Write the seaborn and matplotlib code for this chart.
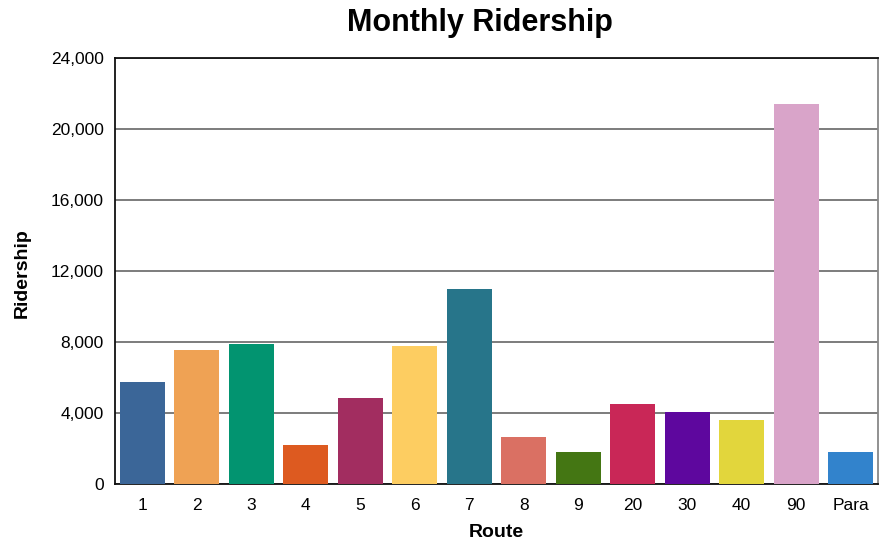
import matplotlib
matplotlib.use("Agg")
import matplotlib.pyplot as plt
import seaborn as sns
import pandas as pd
from matplotlib.ticker import FuncFormatter

routes = ["1", "2", "3", "4", "5", "6", "7", "8", "9", "20", "30", "40", "90", "Para"]
ridership = [5730, 7530, 7870, 2180, 4830, 7760, 10970, 2630, 1790, 4490, 4040, 3590, 21390, 1790]
colors = ["#3b6698", "#efa254", "#029470", "#dd5a20", "#a22d60", "#fdcd61", "#27758a",
          "#da7063", "#447613", "#c92757", "#5e079e", "#e2d63c", "#d9a4c9", "#3283cc"]
y_ticks = [0, 4000, 8000, 12000, 16000, 20000, 24000]

df = pd.DataFrame({"Route": routes, "Ridership": ridership})

sns.set_theme(style="white")
plt.rcParams["font.family"] = ["Liberation Sans", "DejaVu Sans"]
plt.rcParams["text.color"] = "black"
plt.rcParams["axes.labelcolor"] = "black"

fig = plt.figure(figsize=(8.83, 5.44), dpi=100)
ax = fig.add_axes([115 / 883, 60 / 544, 763 / 883, 426 / 544])

sns.barplot(data=df, x="Route", y="Ridership", hue="Route", palette=colors,
            order=routes, hue_order=routes, legend=False, width=0.82,
            saturation=1, linewidth=0, ax=ax, zorder=3)

ax.set_xlim(-0.5, len(routes) - 0.5)
ax.set_ylim(0, 24000)
ax.set_yticks(y_ticks)
ax.yaxis.set_major_formatter(FuncFormatter(lambda v, p: f"{int(v):,}"))
ax.grid(axis="y", color="#666666", linewidth=1.2, zorder=0)
ax.set_axisbelow(True)
ax.tick_params(axis="y", length=0, labelsize=12.5, colors="black", pad=8)
ax.tick_params(axis="x", length=0, labelsize=12.5, colors="black", pad=10)

for side in ["left", "bottom", "top"]:
    ax.spines[side].set_color("#111111")
    ax.spines[side].set_linewidth(1.3)
ax.spines["right"].set_color("#888888")
ax.spines["right"].set_linewidth(1.3)

ax.set_xlabel("Route", fontsize=14, fontweight="bold")
ax.set_ylabel("Ridership", fontsize=14, fontweight="bold")
ax.xaxis.set_label_coords((496 - 115) / 763, (484 - 524) / 426)
ax.yaxis.set_label_coords((31 - 115) / 763, (484 - 273) / 426)
fig.text(480 / 883, 1 - 23 / 544, "Monthly Ridership", ha="center", va="center",
         fontsize=22, fontweight="bold")

fig.savefig("out.png", dpi=100)
